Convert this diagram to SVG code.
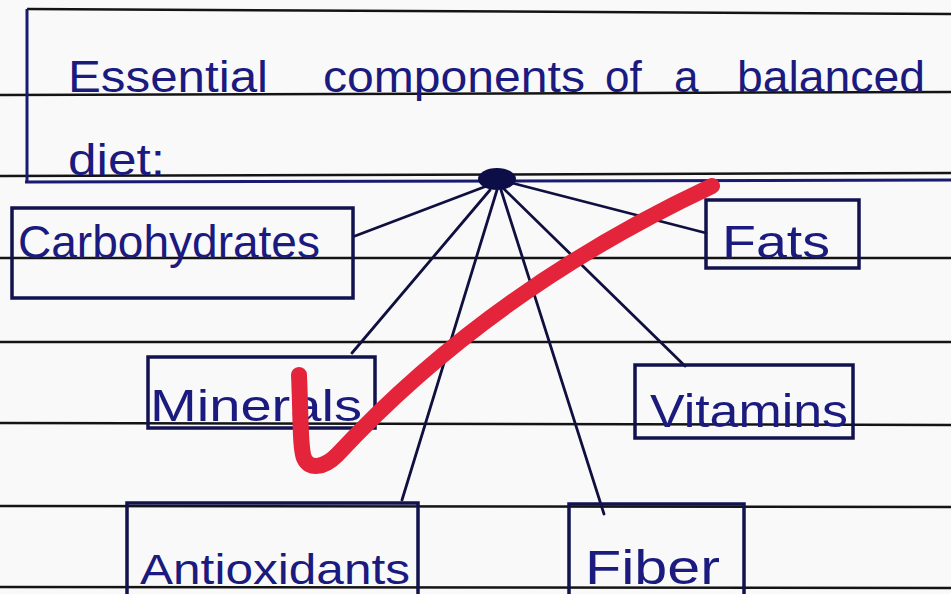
<svg xmlns="http://www.w3.org/2000/svg" width="951" height="594" viewBox="0 0 951 594">
<style>
.rule{stroke:#141414;stroke-width:2.5;fill:none}
.ink{fill:#1b1a7e;font-family:"Liberation Sans","DejaVu Sans",sans-serif}
.box{fill:none;stroke:#12124f;stroke-width:3.5}
.conn{stroke:#101040;stroke-width:2.8;fill:none;stroke-linecap:round}
</style>
<rect width="951" height="594" fill="#f9f9f9"/>
<g id="rules">
<line class="rule" x1="27" y1="9" x2="951" y2="14"/>
<line class="rule" x1="0" y1="95" x2="951" y2="92"/>
<line class="rule" x1="0" y1="176" x2="951" y2="173"/>
<line class="rule" x1="0" y1="258" x2="951" y2="258"/>
<line class="rule" x1="0" y1="342" x2="951" y2="342"/>
<line class="rule" x1="0" y1="423" x2="951" y2="425"/>
<line class="rule" x1="0" y1="506" x2="951" y2="507"/>
<line class="rule" x1="0" y1="587" x2="951" y2="588"/>
<line x1="27" y1="9" x2="27" y2="183" stroke="#1a1a70" stroke-width="3"/>
<line x1="25" y1="182" x2="951" y2="180" stroke="#1a1a70" stroke-width="3"/>
</g>
<g id="title">
<text class="ink" font-size="44" y="92"><tspan x="68" textLength="200" lengthAdjust="spacingAndGlyphs">Essential</tspan><tspan x="323" textLength="262" lengthAdjust="spacingAndGlyphs">components</tspan><tspan x="605">of</tspan><tspan x="674">a</tspan><tspan x="737" textLength="188" lengthAdjust="spacingAndGlyphs">balanced</tspan></text>
<text class="ink" font-size="44" x="68" y="175" textLength="97" lengthAdjust="spacingAndGlyphs">diet:</text>
</g>
<g id="connectors">
<path class="conn" d="M492,184 L355,236"/>
<path class="conn" d="M512,183 L706,233"/>
<path class="conn" d="M490,190 L352,353"/>
<path class="conn" d="M503,188 L685,366"/>
<path class="conn" d="M497,190 L402,500"/>
<path class="conn" d="M501,190 L604,514"/>
</g>
<g id="hub"><ellipse cx="497" cy="179" rx="19" ry="11" fill="#0d0d48"/></g>
<g id="carbohydrates">
<rect class="box" x="12" y="208" width="341" height="90"/>
<text class="ink" font-size="46" x="18" y="258" textLength="302" lengthAdjust="spacingAndGlyphs">Carbohydrates</text>
</g>
<g id="fats">
<rect class="box" x="706" y="200" width="153" height="68"/>
<text class="ink" font-size="46" x="722" y="258" textLength="108" lengthAdjust="spacingAndGlyphs">Fats</text>
</g>
<g id="minerals">
<rect class="box" x="148" y="357" width="227" height="71"/>
<text class="ink" font-size="44" x="150" y="421" textLength="212" lengthAdjust="spacingAndGlyphs">Minerals</text>
</g>
<g id="vitamins">
<rect class="box" x="635" y="365" width="218" height="73"/>
<text class="ink" font-size="46" x="650" y="427" textLength="198" lengthAdjust="spacingAndGlyphs">Vitamins</text>
</g>
<g id="antioxidants">
<rect class="box" x="127" y="503" width="291" height="100"/>
<text class="ink" font-size="42" x="140" y="584" textLength="270" lengthAdjust="spacingAndGlyphs">Antioxidants</text>
</g>
<g id="fiber">
<rect class="box" x="569" y="504" width="175" height="100"/>
<text class="ink" font-size="48" x="585" y="584" textLength="135" lengthAdjust="spacingAndGlyphs">Fiber</text>
</g>
<g id="check">
<path d="M299,375 C301,420 300,448 304,458 C309,470 324,468 337,455 Q490,290 712,186" fill="none" stroke="#e3243b" stroke-width="16" stroke-linecap="round" stroke-linejoin="round"/>
</g>
</svg>
